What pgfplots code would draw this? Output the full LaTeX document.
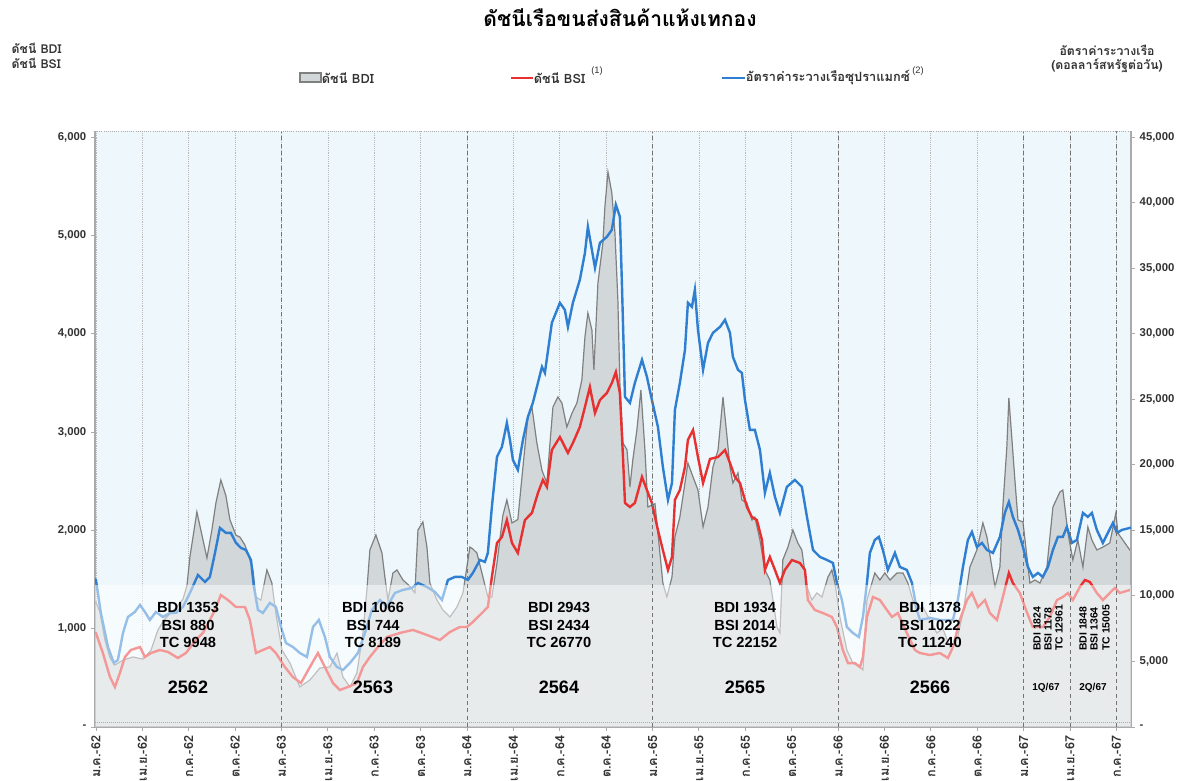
\documentclass[border=0pt]{standalone}
\usepackage{fontspec}
\setmainfont{Liberation Sans}
\newfontfamily\thaifont[Script=Thai]{Loma}
\usepackage{pgfplots}
\pgfplotsset{compat=1.18}
\definecolor{bgblue}{RGB}{238,247,251}
\definecolor{bdifill}{RGB}{210,215,218}
\definecolor{bdiline}{RGB}{128,128,128}
\definecolor{bsired}{RGB}{232,48,48}
\definecolor{tcblue}{RGB}{46,127,210}
\definecolor{axgray}{RGB}{170,170,170}
\definecolor{txt}{RGB}{50,50,50}
\begin{document}
\begin{tikzpicture}
\begin{axis}[
 at={(71.25pt,40.5pt)}, anchor=south west,
 scale only axis, width=777pt, height=447pt,
 xmin=-0.06, xmax=66.95, ymin=0, ymax=6061,
 axis x line*=bottom, axis y line*=left,
 axis line style={-, axgray, line width=0.8pt},
 xtick={0,3,...,66},
 xticklabels={ม.ค.-62,เม.ย.-62,ก.ค.-62,ต.ค.-62,ม.ค.-63,เม.ย.-63,ก.ค.-63,ต.ค.-63,ม.ค.-64,เม.ย.-64,ก.ค.-64,ต.ค.-64,ม.ค.-65,เม.ย.-65,ก.ค.-65,ต.ค.-65,ม.ค.-66,เม.ย.-66,ก.ค.-66,ต.ค.-66,ม.ค.-67,เม.ย.-67,ก.ค.-67},
 x tick label style={rotate=90, anchor=east, font=\thaifont\bfseries\fontsize{9.5}{10}\selectfont, text=txt},
 ytick={0,1000,...,6000},
 yticklabels={-,{1,000},{2,000},{3,000},{4,000},{5,000},{6,000}},
 y tick label style={font=\bfseries\fontsize{8.5}{10}\selectfont, text=txt},
 tick align=outside, major tick length=3pt, tick style={axgray, line width=0.6pt},
 xmajorgrids, grid style={densely dotted, gray!55, line width=0.5pt},
 axis background/.style={fill=bgblue},
]
\addplot[fill=bdifill, draw=bdiline, line width=0.9pt] coordinates {
(-0.06,1275)(0,1271)(0.26,1170)(0.58,885)(0.91,702)(1.23,630)(1.75,680)(2.39,712)(3.04,690)(3.56,780)(4.01,987)(4.46,1100)(5.11,1200)(5.63,1300)(5.89,1440)(6.08,1730)(6.53,2187)(6.86,1950)(7.18,1719)(7.50,2003)(7.76,2278)(8.08,2512)(8.41,2350)(8.67,2105)(9.06,1950)(9.31,1932)(9.64,1850)(9.96,1700)(10.15,1600)(10.35,1322)(10.67,1290)(11.06,1597)(11.38,1464)(11.64,1150)(12.03,783)(12.55,650)(13.19,407)(13.84,478)(14.49,600)(15.13,610)(15.59,752)(15.98,508)(16.43,407)(16.88,549)(17.27,956)(17.53,1400)(17.72,1800)(18.11,1953)(18.50,1770)(18.69,1525)(18.89,1291)(19.21,1566)(19.47,1597)(19.86,1495)(20.31,1430)(20.63,1363)(20.83,2003)(21.15,2085)(21.41,1830)(21.60,1464)(22.06,1291)(22.44,1190)(22.90,1119)(23.35,1220)(23.74,1363)(24.19,1830)(24.38,1810)(24.64,1770)(25.03,1525)(25.35,1322)(25.61,1322)(25.94,1668)(26.32,2150)(26.58,2309)(26.91,2075)(27.29,2110)(27.62,2644)(27.94,3153)(28.20,3254)(28.52,2888)(28.85,2610)(29.17,2481)(29.37,2888)(29.56,3254)(29.88,3356)(30.14,3295)(30.46,3051)(30.79,3190)(31.11,3295)(31.43,3529)(31.63,3966)(31.82,4210)(32.08,4037)(32.21,3631)(32.47,4515)(32.79,4922)(32.92,5288)(33.12,5644)(33.37,5431)(33.57,5024)(33.76,4343)(33.89,3498)(34.09,2888)(34.35,2820)(34.54,2441)(34.73,2720)(34.99,3020)(35.25,3427)(35.51,2820)(35.70,2237)(36.16,2270)(36.35,1973)(36.67,1464)(36.93,1322)(37.26,1525)(37.45,1932)(37.77,2135)(38.10,2481)(38.29,2685)(38.62,2543)(38.94,2410)(39.27,2034)(39.59,2237)(39.91,2644)(40.24,2817)(40.56,3356)(40.82,2950)(41.01,2644)(41.20,2481)(41.53,2583)(41.78,2309)(42.11,2278)(42.43,2105)(42.62,2135)(42.95,1902)(43.27,1597)(43.59,1495)(43.79,1291)(44.05,1017)(44.24,956)(44.43,1700)(44.76,1830)(45.08,2003)(45.40,1871)(45.66,1800)(45.99,1424)(46.31,1291)(46.63,1363)(46.96,1322)(47.35,1525)(47.60,1597)(47.80,1464)(48.12,1119)(48.57,783)(48.96,650)(49.42,610)(49.61,580)(49.87,1291)(50.19,1464)(50.38,1566)(50.71,1495)(51.03,1566)(51.36,1495)(51.81,1566)(52.20,1566)(52.52,1464)(52.84,1291)(53.10,1190)(53.49,1220)(53.94,1088)(54.39,956)(54.78,1000)(55.24,813)(55.69,885)(56.08,1159)(56.34,1424)(56.53,1627)(56.98,1800)(57.37,2075)(57.63,1932)(57.95,1627)(58.15,1424)(58.47,1627)(58.66,2237)(58.92,2848)(59.05,3346)(59.25,2919)(59.44,2512)(59.64,2105)(59.96,2085)(60.22,1729)(60.41,1464)(60.73,1495)(61.06,1464)(61.51,1627)(61.90,2237)(62.35,2390)(62.54,2410)(62.87,1973)(63.19,1698)(63.51,1902)(63.84,1627)(64.16,2034)(64.42,1902)(64.74,1800)(65.13,1830)(65.58,1871)(65.97,2176)(66.10,1973)(66.42,1902)(66.87,1800)(66.95,1790)
} \closedcycle;
\addplot[bsired, line width=1.8pt] coordinates {
(-0.06,960)(0,956)(0.45,752)(0.91,508)(1.23,407)(1.55,549)(1.88,712)(2.26,783)(2.85,813)(3.17,712)(3.56,752)(4.14,783)(4.66,763)(5.30,702)(5.82,752)(6.47,885)(6.92,956)(7.37,1088)(7.70,1190)(8.08,1342)(8.54,1291)(9.06,1220)(9.64,1220)(9.96,1088)(10.35,752)(10.80,783)(11.25,813)(11.64,752)(12.22,610)(12.74,508)(13.26,447)(13.84,610)(14.36,752)(14.81,610)(15.33,447)(15.78,376)(16.30,407)(16.88,447)(17.27,610)(17.72,712)(18.24,813)(18.82,915)(19.66,956)(20.50,987)(21.41,936)(22.25,885)(22.90,966)(23.54,1017)(24.00,1017)(24.38,1068)(24.97,1159)(25.35,1220)(25.61,1525)(25.94,1871)(26.26,1932)(26.58,2105)(26.91,1871)(27.29,1770)(27.75,2105)(28.20,2176)(28.59,2380)(28.91,2512)(29.17,2441)(29.49,2817)(30.01,2949)(30.53,2787)(30.85,2888)(31.30,3051)(31.63,3254)(31.95,3458)(32.28,3193)(32.60,3325)(33.05,3397)(33.37,3498)(33.63,3610)(33.89,3397)(34.09,2746)(34.22,2278)(34.54,2237)(34.86,2278)(35.32,2543)(35.64,2410)(35.96,2278)(36.35,2003)(36.67,1800)(37.00,1597)(37.26,1729)(37.45,2309)(37.77,2410)(38.10,2644)(38.29,2919)(38.62,3020)(38.94,2746)(39.27,2481)(39.72,2726)(40.24,2746)(40.69,2817)(41.01,2685)(41.33,2543)(41.66,2481)(42.11,2237)(42.43,2135)(42.75,2105)(43.08,1902)(43.27,1597)(43.59,1729)(43.92,1597)(44.24,1464)(44.56,1597)(45.02,1698)(45.53,1668)(45.86,1597)(46.05,1291)(46.50,1190)(47.02,1159)(47.60,1119)(47.93,1017)(48.31,783)(48.64,650)(49.09,650)(49.42,610)(49.61,712)(49.87,1119)(50.26,1322)(50.71,1291)(51.16,1190)(51.49,1119)(51.87,1159)(52.45,956)(52.97,783)(53.30,752)(53.94,732)(54.59,752)(55.11,702)(55.43,813)(55.88,1088)(56.34,1291)(56.66,1363)(57.05,1220)(57.50,1291)(57.82,1159)(58.28,1088)(58.66,1322)(59.05,1566)(59.31,1464)(59.76,1363)(60.09,1220)(60.41,1088)(60.60,1017)(61.25,1017)(61.70,1119)(62.16,1291)(62.54,1322)(62.87,1363)(63.19,1291)(63.64,1424)(63.97,1495)(64.29,1475)(64.74,1363)(65.13,1291)(65.58,1363)(65.90,1414)(66.23,1363)(66.87,1393)(66.95,1395)
};
\end{axis}
\begin{axis}[
 at={(71.25pt,40.5pt)}, anchor=south west,
 scale only axis, width=777pt, height=447pt,
 xmin=-0.06, xmax=66.95, ymin=0, ymax=45458,
 axis x line=none, axis y line*=right,
 axis line style={-, axgray, line width=0.8pt},
 scaled y ticks=false,
 ytick={0,5000,...,45000},
 yticklabels={-,{5,000},{10,000},{15,000},{20,000},{25,000},{30,000},{35,000},{40,000},{45,000}},
 y tick label style={font=\bfseries\fontsize{8.5}{10}\selectfont, text=txt},
 tick align=outside, major tick length=3pt, tick style={axgray, line width=0.6pt},
]
\addplot[tcblue, line width=1.8pt] coordinates {
(-0.06,11300)(0,11216)(0.32,8698)(0.78,6104)(1.16,4883)(1.42,5112)(1.75,7172)(2.07,8393)(2.52,8775)(2.85,9309)(3.17,8775)(3.49,8164)(3.88,8775)(4.33,8393)(4.79,8698)(5.17,8698)(5.63,9156)(6.08,10224)(6.60,11598)(7.05,11064)(7.37,11445)(7.70,13276)(8.02,15184)(8.41,14802)(8.73,14802)(9.06,14039)(9.38,13658)(9.70,13505)(10.03,12742)(10.22,10682)(10.48,8927)(10.80,8698)(11.25,9461)(11.64,9156)(11.97,7630)(12.29,6409)(12.74,6104)(13.19,5646)(13.65,5341)(14.04,7630)(14.42,8164)(14.81,6867)(15.13,5341)(15.59,4578)(15.98,4349)(16.43,4883)(16.95,5646)(17.40,7172)(17.85,8927)(18.37,9690)(18.82,9156)(19.34,10224)(19.86,10453)(20.44,10606)(20.83,10987)(21.41,10682)(21.93,10301)(22.38,9690)(22.77,11216)(23.22,11445)(23.67,11445)(24.06,11216)(24.38,11750)(24.84,12742)(25.16,12590)(25.35,13276)(25.61,16786)(25.94,20601)(26.26,21364)(26.58,23195)(26.78,21898)(26.97,20372)(27.29,19609)(27.62,21898)(27.94,23653)(28.26,24721)(28.85,27468)(29.04,27010)(29.49,30825)(30.01,32351)(30.33,31817)(30.53,30520)(30.85,32351)(31.30,34106)(31.63,36166)(31.82,38150)(32.08,36395)(32.28,35022)(32.60,36929)(33.05,37387)(33.37,37921)(33.63,39829)(33.89,38913)(34.02,33877)(34.22,25179)(34.54,24721)(34.86,26247)(35.32,28002)(35.64,26705)(35.96,24950)(36.35,22890)(36.67,19838)(37.00,17320)(37.26,18617)(37.45,24187)(37.77,26247)(38.10,28765)(38.29,32351)(38.55,32046)(38.74,33343)(38.94,30291)(39.27,27239)(39.59,29299)(39.91,30062)(40.37,30520)(40.69,31054)(41.01,30062)(41.20,28231)(41.53,27239)(41.78,27010)(41.98,24950)(42.30,22661)(42.62,22661)(42.95,21135)(43.27,17854)(43.59,19380)(43.92,17549)(44.24,16328)(44.69,18312)(45.21,18846)(45.66,18312)(45.99,16023)(46.38,13505)(46.83,12971)(47.28,12742)(47.67,12513)(47.93,10987)(48.25,9690)(48.57,7630)(48.96,7172)(49.35,6867)(49.61,8393)(49.87,10987)(50.06,13276)(50.38,14268)(50.64,14497)(50.90,13505)(51.22,11979)(51.68,13276)(52.00,12208)(52.45,11979)(52.78,10987)(53.10,8927)(53.30,8164)(53.94,8317)(54.59,8164)(55.43,8164)(55.75,9690)(56.08,12208)(56.40,14268)(56.66,14879)(56.98,13734)(57.31,14039)(57.63,13505)(58.02,13276)(58.47,14497)(58.79,16328)(59.05,17168)(59.31,16023)(59.64,15031)(59.96,13734)(60.28,12208)(60.60,11445)(60.93,11750)(61.25,11445)(61.58,12208)(61.90,13505)(62.22,14497)(62.54,14497)(62.80,15260)(63.13,14039)(63.45,14268)(63.84,16328)(64.16,16023)(64.42,16328)(64.74,15031)(65.13,14039)(65.45,14802)(65.78,15565)(66.04,14802)(66.36,15031)(66.87,15184)(66.95,15200)
};
\fill[white, fill opacity=0.5] (axis cs:-0.06,0) rectangle (axis cs:66.95,10830);
\foreach \xx in {12,24,36,48,60,63,66}{
  \edef\tmp{\noexpand\draw[gray!90!black, line width=0.6pt, dash pattern=on 3pt off 2.5pt] (axis cs:\xx,0) -- (axis cs:\xx,45458);}
  \tmp
}
\draw[densely dotted, axgray, line width=0.6pt] (rel axis cs:0,1) -- (rel axis cs:1,1);
\draw[densely dotted, axgray, line width=0.5pt] (axis cs:-0.06,320) -- (axis cs:66.95,320);
\end{axis}
\begin{scope}[x=0.75pt, y=-0.75pt, shift={(0pt,585.75pt)}]
% title
\node[font=\thaifont\bfseries\fontsize{15.8}{18}\selectfont] at (620,18) {ดัชนีเรือขนส่งสินค้าแห้งเทกอง};
% axis titles
\node[anchor=west, text=txt, font=\thaifont\bfseries\fontsize{9.2}{10}\selectfont] at (7,48) {ดัชนี BDI};
\node[anchor=west, text=txt, font=\thaifont\bfseries\fontsize{9.2}{10}\selectfont] at (7,63) {ดัชนี BSI};
\node[text=txt, font=\thaifont\bfseries\fontsize{9.2}{10}\selectfont] at (1107,50) {อัตราค่าระวางเรือ};
\node[text=txt, font=\thaifont\bfseries\fontsize{9.2}{10}\selectfont] at (1107,66) {(ดอลลาร์สหรัฐต่อวัน)};
% legend
\filldraw[fill=bdifill, draw=bdiline, line width=0.8pt] (300,73) rectangle (321,82);
\node[anchor=west, inner sep=0.5pt, text=txt, font=\thaifont\bfseries\fontsize{9.6}{10}\selectfont] at (321,78) {ดัชนี BDI};
\draw[bsired, line width=2pt] (511,78) -- (533,78);
\node[anchor=west, inner sep=0.5pt, text=txt, font=\thaifont\bfseries\fontsize{9.6}{10}\selectfont] at (533,78) {ดัชนี BSI};
\node[text=txt, font=\fontsize{7}{8}\selectfont] at (597,71) {(1)};
\draw[tcblue, line width=2pt] (722,78) -- (745,78);
\node[anchor=west, inner sep=0.5pt, text=txt, font=\thaifont\bfseries\fontsize{9.6}{10}\selectfont] at (745,78) {อัตราค่าระวางเรือซุปราแมกซ์};
\node[text=txt, font=\fontsize{7}{8}\selectfont] at (918,71) {(2)};
% annotations
\foreach \cx/\a/\b/\c/\yr in {188/1353/880/9948/2562, 373/1066/744/8189/2563, 559/2943/2434/26770/2564, 745/1934/2014/22152/2565, 930/1378/1022/11240/2566}{
  \node[font=\bfseries\fontsize{11}{13}\selectfont, align=center] at (\cx,625) {BDI \a\\BSI \b\\TC \c};
  \node[font=\bfseries\fontsize{13.5}{15}\selectfont] at (\cx,687) {\yr};
}
\foreach \cx/\t in {1037/BDI 1824, 1048/BSI 1178, 1059/TC 12961, 1083/BDI 1848, 1094/BSI 1364, 1106/TC 15005}{
  \node[rotate=90, anchor=west, inner sep=0pt, font=\bfseries\fontsize{7.8}{9}\selectfont] at (\cx,651) {\t};
}
\node[font=\bfseries\fontsize{7.5}{9}\selectfont] at (1046,688) {1Q/67};
\node[font=\bfseries\fontsize{7.5}{9}\selectfont] at (1093,688) {2Q/67};
\end{scope}
\pgfresetboundingbox
\path[use as bounding box] (0,0) rectangle (892.5pt,585.75pt);
\end{tikzpicture}
\end{document}
